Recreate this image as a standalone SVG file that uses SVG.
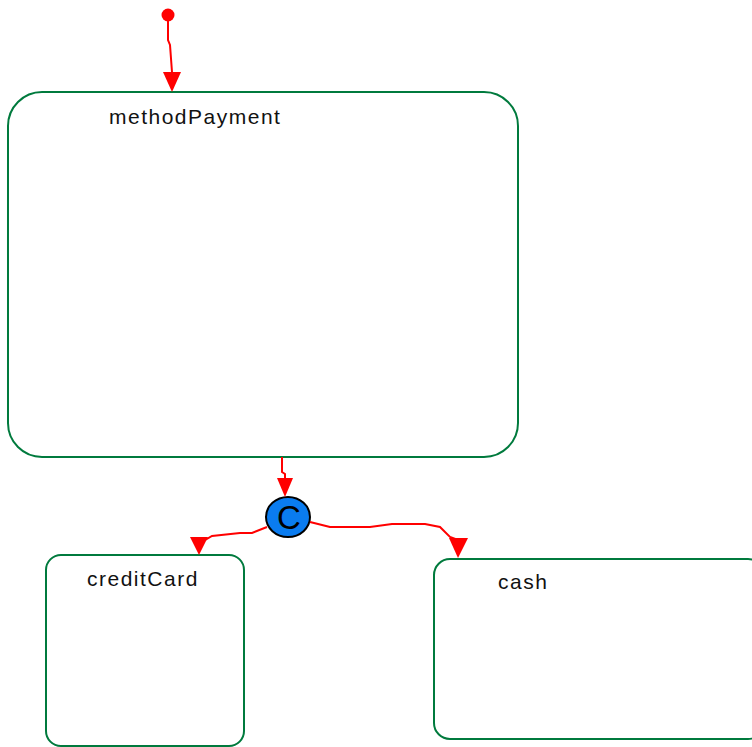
<svg xmlns="http://www.w3.org/2000/svg" width="752" height="747" viewBox="0 0 752 747">
<style>
.state{fill:#fff;stroke:#007a3d;stroke-width:2}
.lbl{font-family:"Liberation Sans",Arial,sans-serif;font-size:21px;letter-spacing:1.5px;fill:#111}
.tr{fill:none;stroke:#f00;stroke-width:2}
.ah{fill:#f00}
</style>
<rect width="752" height="747" fill="#fff"/>
<g id="methodPayment">
<rect class="state" x="8" y="92" width="510" height="365" rx="34" ry="34"/>
<text class="lbl" x="109" y="124">methodPayment</text>
</g>
<g id="creditCard">
<rect class="state" x="46" y="555" width="198" height="191" rx="15" ry="15"/>
<text class="lbl" x="87" y="586">creditCard</text>
</g>
<g id="cash">
<rect class="state" x="434" y="559" width="330" height="180" rx="16" ry="16"/>
<text class="lbl" x="498" y="589">cash</text>
</g>
<g id="initial">
<circle cx="168" cy="15" r="6.5" fill="#f00"/>
</g>
<g id="choice">
<ellipse cx="288" cy="517" rx="22" ry="20" fill="#0a7cf0" stroke="#000" stroke-width="2"/>
<text x="289" y="529" text-anchor="middle" font-family="'Liberation Sans',Arial,sans-serif" font-size="33" fill="#000">C</text>
</g>
<g id="connectors">
<path class="tr" d="M168,21 L168,40 L170,45 L172,72"/>
<polygon class="ah" points="163,72 181,72 172,92"/>
<path class="tr" d="M282,457 L282,472 L285,474 L285,479"/>
<polygon class="ah" points="277,478 293,478 285,497"/>
<path class="tr" d="M267,527 L252,533 L240,533 L212,536 L205,540 L200,540"/>
<polygon class="ah" points="190,537 208,537 199,555"/>
<path class="tr" d="M310,522 L330,527 L370,527 L392,524 L425,524 L440,527 L450,537 L458,540"/>
<polygon class="ah" points="449,538 468,538 458,558"/>
</g>
</svg>
